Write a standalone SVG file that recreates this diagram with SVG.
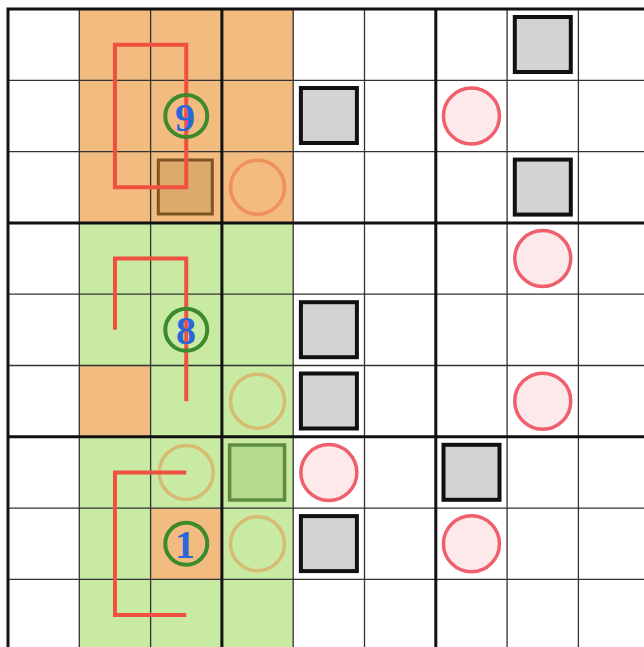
<svg xmlns="http://www.w3.org/2000/svg" width="644" height="647" viewBox="0 0 644 647">
<style>
.bgo{fill:#f2bb80}
.bgg{fill:#c9eaa3}
.thin{stroke:#333;stroke-width:1.3}
.thick{stroke:#111;stroke-width:3}
.gsq{fill:#d3d3d3;stroke:#111;stroke-width:4}
.rc{fill:#fde9ea;stroke:#ef5f6c;stroke-width:3.5}
.tc{fill:none;stroke:#d6bb72;stroke-width:3.5}
.gc{fill:none;stroke:#3c8a2c;stroke-width:4}
.red{fill:none;stroke:#ef5040;stroke-width:4}
.dig{font-family:"Liberation Serif",serif;font-size:40px;font-weight:bold;fill:#2a66d8;text-anchor:middle}
</style>
<rect x="0" y="0" width="644" height="647" fill="#fff"/>
<g id="regions">
<rect class="bgo" x="79.3" y="9" width="213.9" height="213.9"/>
<rect class="bgg" x="79.3" y="222.9" width="213.9" height="430"/>
<rect class="bgo" x="79.3" y="365.5" width="71.3" height="71.3"/>
<rect class="bgo" x="150.6" y="508.1" width="71.3" height="71.3"/>
</g>
<g id="grid">
<path class="thin" d="M79.3 9V647M150.6 9V647M293.2 9V647M364.5 9V647M507.1 9V647M578.4 9V647M8 80.3H644M8 151.6H644M8 294.2H644M8 365.5H644M8 508.1H644M8 579.4H644"/>
<path class="thick" d="M8 7.5V647M221.9 9V647M435.8 9V647M6.5 9H644M8 222.9H644M8 436.8H644"/>
</g>
<g id="squares">
<rect class="gsq" x="300.9" y="88" width="56" height="55"/>
<rect class="gsq" x="514.8" y="17" width="56" height="55"/>
<rect class="gsq" x="514.8" y="159.6" width="56" height="55"/>
<rect class="gsq" x="300.9" y="302.2" width="56" height="55"/>
<rect class="gsq" x="300.9" y="373.5" width="56" height="55"/>
<rect class="gsq" x="443.5" y="444.8" width="56" height="55"/>
<rect class="gsq" x="300.9" y="516.1" width="56" height="55"/>
<rect x="158.3" y="160" width="54" height="54" fill="#dcab6c" stroke="#7e5422" stroke-width="3"/>
<rect x="229.6" y="445" width="55" height="55" fill="#b6da8c" stroke="#5e8c3e" stroke-width="3.5"/>
</g>
<g id="circles">
<circle class="rc" cx="471.45" cy="115.95" r="28"/>
<circle class="rc" cx="542.75" cy="258.55" r="28"/>
<circle class="rc" cx="542.75" cy="401.15" r="28"/>
<circle class="rc" cx="328.85" cy="472.45" r="28"/>
<circle class="rc" cx="471.45" cy="543.75" r="28"/>
<circle cx="257.55" cy="187.25" r="27" fill="#f2bb80" stroke="#f0905a" stroke-width="3.5"/>
<circle class="tc" cx="257.55" cy="401.15" r="27"/>
<circle class="tc" cx="186.25" cy="472.45" r="27"/>
<circle class="tc" cx="257.55" cy="543.75" r="27"/>
</g>
<g id="connectors">
<path class="red" d="M114.95 44.65H186.25V187.25H114.95Z"/>
<path class="red" d="M114.95 329.85V258.55H186.25V401.15"/>
<path class="red" d="M186.25 472.45H114.95V615.05H186.25"/>
</g>
<g id="n9"><circle class="gc" cx="186.25" cy="115.95" r="21"/><text class="dig" x="185" y="131">9</text></g>
<g id="n8"><circle class="gc" cx="186.25" cy="329.85" r="21"/><text class="dig" x="186" y="344">8</text></g>
<g id="n1"><circle class="gc" cx="186.25" cy="543.75" r="21"/><text class="dig" x="185" y="558">1</text></g>
</svg>
